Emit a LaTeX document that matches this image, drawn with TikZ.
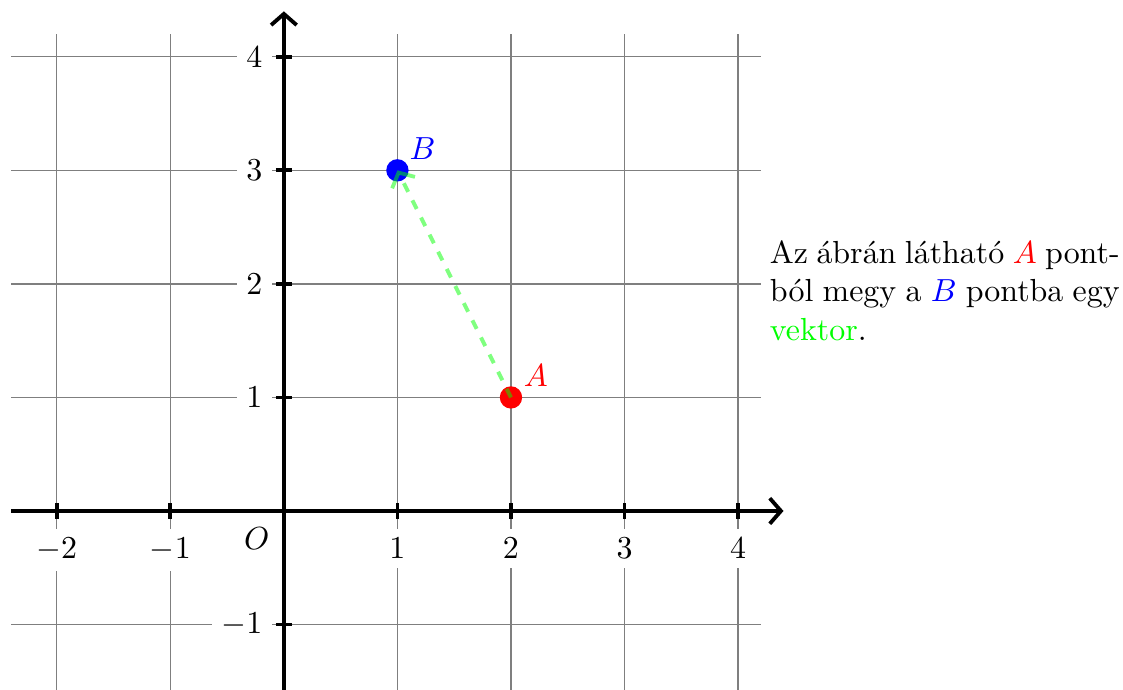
\documentclass[tikz,border=0pt]{standalone}
\usepackage{fontspec}
\usepackage{amsmath}
\usepackage{xcolor}
\usepackage{tikz}
\usetikzlibrary{arrows.meta, positioning}
\definecolor{PontA}{HTML}{FF0000}
\definecolor{PontB}{HTML}{0000FF}
\definecolor{Vektor}{HTML}{00FF00}
\definecolor{RacsSzurke}{HTML}{7F7F7F}

\begin{document}
\begin{tikzpicture}[x=1.25cm, y=1.25cm,
    racs/.style={RacsSzurke, line width=0.4pt},
    tengely/.style={line width=1.2pt, -{Straight Barb[length=3.5pt, width=8pt]}},
    oszto/.style={line width=1.2pt},
    xszam/.style={fill=white, inner sep=3pt, anchor=north},
    yszam/.style={fill=white, inner sep=3pt, anchor=east},
    pont/.style={circle, inner sep=0pt, minimum size=7pt}]
    \useasboundingbox (-2.5,-1.57) rectangle (7.39,4.5);

    % Grid
    \draw[racs, step=1] (-2.4,-1.7) grid (4.2,4.2);

    % Tick labels (white boxes break the grid)
    \node[xszam] (xm2) at (-2,-0.15) {$-2$};
    \node[xszam] (xm1) at (-1,-0.15) {$-1$};
    \node[xszam] (x1) at (1,-0.15) {$1$};
    \node[xszam] (x2) at (2,-0.15) {$2$};
    \node[xszam] (x3) at (3,-0.15) {$3$};
    \node[xszam] (x4) at (4,-0.15) {$4$};
    \node[yszam] (ym1) at (-0.1,-1) {$-1$};
    \node[yszam] (y1) at (-0.1,1) {$1$};
    \node[yszam] (y2) at (-0.1,2) {$2$};
    \node[yszam] (y3) at (-0.1,3) {$3$};
    \node[yszam] (y4) at (-0.1,4) {$4$};
    \node (O) at (-0.24,-0.24) {$O$};

    % Axes
    \draw[tengely] (-2.4,0) -- (4.4,0);
    \draw[tengely] (0,-1.7) -- (0,4.4);

    % Ticks
    \draw[oszto] (-2,-0.07) -- (-2,0.07);
    \draw[oszto] (-1,-0.07) -- (-1,0.07);
    \draw[oszto] (1,-0.07) -- (1,0.07);
    \draw[oszto] (2,-0.07) -- (2,0.07);
    \draw[oszto] (3,-0.07) -- (3,0.07);
    \draw[oszto] (4,-0.07) -- (4,0.07);
    \draw[oszto] (-0.07,-1) -- (0.07,-1);
    \draw[oszto] (-0.07,1) -- (0.07,1);
    \draw[oszto] (-0.07,2) -- (0.07,2);
    \draw[oszto] (-0.07,3) -- (0.07,3);
    \draw[oszto] (-0.07,4) -- (0.07,4);

    % Points A and B
    \node[pont, fill=PontA] (A) at (2,1) {};
    \node[pont, fill=PontB] (B) at (1,3) {};
    \node[text=PontA] (Acimke) at (2.22,1.19) {$A$};
    \node[text=PontB] (Bcimke) at (1.22,3.19) {$B$};

    % The vector from A to B
    \draw[Vektor, draw opacity=0.5, very thick, dashed,
          -{Straight Barb[length=3.5pt, width=8pt]}] (A.center) -- (B.center);

    % Text on the right
    \node[anchor=north west, text width=3.85cm, align=justify, inner sep=0pt] (szoveg) at (4.275,2.385)
        {Az ábrán látható {\color{PontA}$A$} pont-\linebreak ból megy a {\color{PontB}$B$} pontba egy\linebreak {\color{Vektor}vektor}.};
\end{tikzpicture}
\end{document}
